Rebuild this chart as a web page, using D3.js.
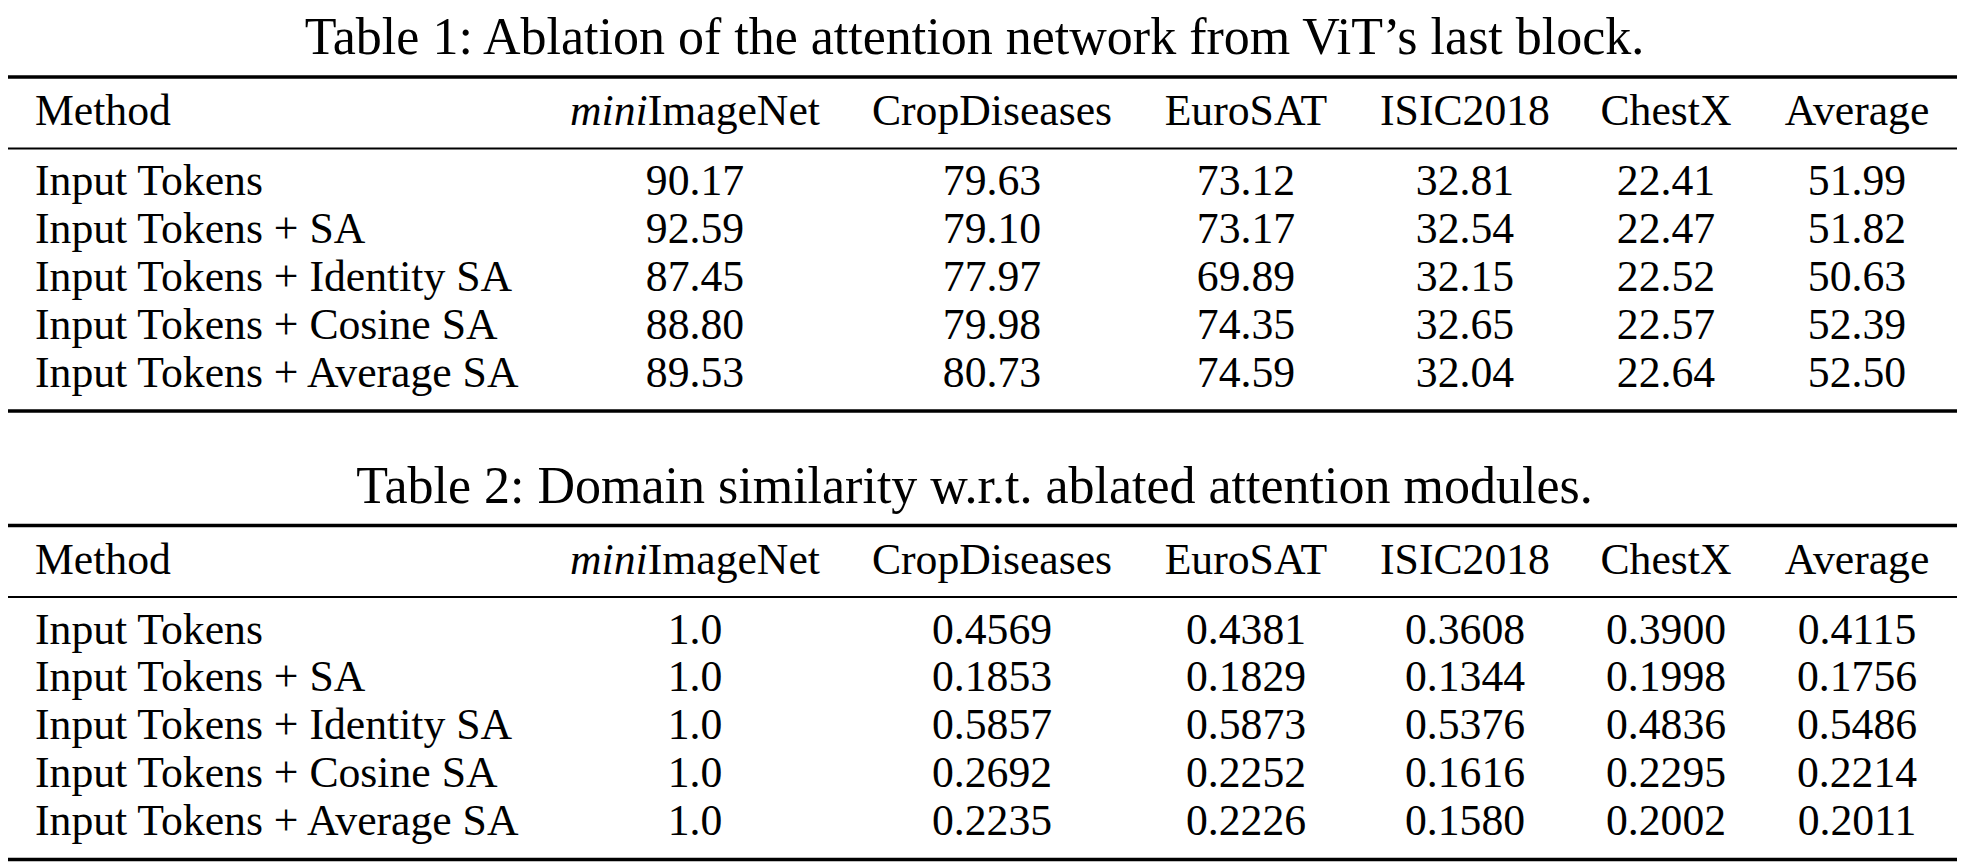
<!DOCTYPE html>
<html>
<head>
<meta charset="utf-8">
<script src="https://cdn.jsdelivr.net/npm/d3@7"></script>
<style>
  html, body { margin: 0; padding: 0; background: #fff; }
  svg text { font-family: "Liberation Serif", "Times New Roman", serif; fill: #000; }
</style>
</head>
<body>
<script>
// Two ablation tables, drawn as svg text + booktabs style rules

var columns = ['miniImageNet', 'CropDiseases', 'EuroSAT', 'ISIC2018', 'ChestX', 'Average'];
var methods = ['Input Tokens', 'Input Tokens + SA', 'Input Tokens + Identity SA',
  'Input Tokens + Cosine SA', 'Input Tokens + Average SA'];

var titles = ['Table 1: Ablation of the attention network from ViT\u2019s last block.',
  'Table 2: Domain similarity w.r.t. ablated attention modules.'];

// table 1: accuracy
var accuracy = [
  ['90.17', '79.63', '73.12', '32.81', '22.41', '51.99'],
  ['92.59', '79.10', '73.17', '32.54', '22.47', '51.82'],
  ['87.45', '77.97', '69.89', '32.15', '22.52', '50.63'],
  ['88.80', '79.98', '74.35', '32.65', '22.57', '52.39'],
  ['89.53', '80.73', '74.59', '32.04', '22.64', '52.50']
];

// table 2: domain similarity
var similarity = [
  ['1.0', '0.4569', '0.4381', '0.3608', '0.3900', '0.4115'],
  ['1.0', '0.1853', '0.1829', '0.1344', '0.1998', '0.1756'],
  ['1.0', '0.5857', '0.5873', '0.5376', '0.4836', '0.5486'],
  ['1.0', '0.2692', '0.2252', '0.1616', '0.2295', '0.2214'],
  ['1.0', '0.2235', '0.2226', '0.1580', '0.2002', '0.2011']
];

var W = 1963, H = 866;
var bodySize = 43.7, titleSize = 52;
var ruleLeft = 8, ruleRight = 1957;
var methodX = 35;

var svg = d3.select('body').append('svg')
  .attr('width', W).attr('height', H)
  .attr('viewBox', '0 0 ' + W + ' ' + H);

// column centres (not evenly spaced, so ordinal)
var xCol = d3.scaleOrdinal()
  .domain(columns)
  .range([695, 992, 1246, 1465, 1666, 1857]);

// row baselines inside a table
var yRow = d3.scaleLinear().domain([0, methods.length - 1]).range([195, 386.7]);

function drawTable(g, title, values) {
  g.append('text')
    .attr('x', W / 2 - 7)
    .attr('y', 54)
    .attr('text-anchor', 'middle')
    .style('font-size', titleSize + 'px')
    .text(title);

  var rules = [{y: 77, w: 3.6}, {y: 148.5, w: 2}, {y: 411, w: 3.6}];
  g.selectAll('line.rule')
    .data(rules)
    .enter().append('line')
    .attr('class', 'rule')
    .attr('x1', ruleLeft).attr('x2', ruleRight)
    .attr('y1', function(d) { return d.y; })
    .attr('y2', function(d) { return d.y; })
    .attr('stroke', '#000')
    .attr('stroke-width', function(d) { return d.w; });

  // header
  g.append('text')
    .attr('x', methodX).attr('y', 125)
    .style('font-size', bodySize + 'px')
    .text('Method');

  var head = g.selectAll('text.head')
    .data(columns)
    .enter().append('text')
    .attr('class', 'head')
    .attr('x', function(d) { return xCol(d); })
    .attr('y', 125)
    .attr('text-anchor', 'middle')
    .style('font-size', bodySize + 'px');

  head.each(function(d) {
    var t = d3.select(this);
    if (d.indexOf('mini') === 0) {
      t.append('tspan').style('font-style', 'italic').text('mini');
      t.append('tspan').text(d.slice(4));
    } else {
      t.text(d);
    }
  });

  // method names
  g.selectAll('text.method')
    .data(methods)
    .enter().append('text')
    .attr('class', 'method')
    .attr('x', methodX)
    .attr('y', function(d, i) { return yRow(i); })
    .style('font-size', bodySize + 'px')
    .text(function(d) { return d; });

  // value cells
  var rows = g.selectAll('g.row')
    .data(values)
    .enter().append('g')
    .attr('class', 'row')
    .attr('transform', function(d, i) { return 'translate(0,' + yRow(i) + ')'; });

  rows.selectAll('text')
    .data(function(d) { return d; })
    .enter().append('text')
    .attr('x', function(d, j) { return xCol(columns[j]); })
    .attr('y', 0)
    .attr('text-anchor', 'middle')
    .style('font-size', bodySize + 'px')
    .text(function(d) { return d; });
}

drawTable(svg.append('g'), titles[0], accuracy);
drawTable(svg.append('g').attr('transform', 'translate(0,448.5)'), titles[1], similarity);
</script>
</body>
</html>
